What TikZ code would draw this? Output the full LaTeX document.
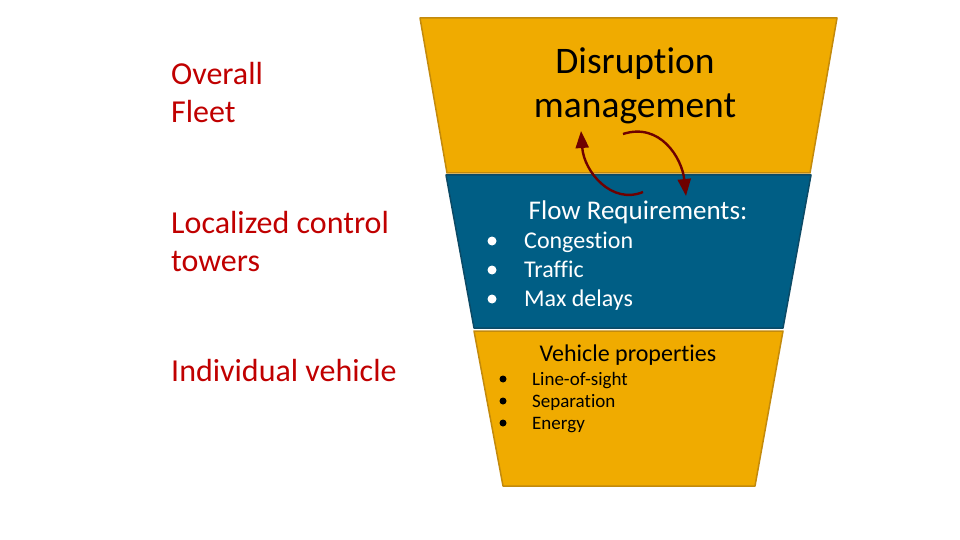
\documentclass[tikz,border=0pt]{standalone}
\usepackage{fontspec}
\setmainfont[Ligatures={NoCommon}]{Carlito}
\usetikzlibrary{arrows.meta}
\definecolor{gold}{HTML}{F0AB00}
\definecolor{goldedge}{HTML}{C38A0C}
\definecolor{navy}{HTML}{005E85}
\definecolor{navyedge}{HTML}{0C4A66}
\definecolor{labelred}{HTML}{C00000}
\definecolor{arrowred}{HTML}{6E0000}
\tikzset{
  goldpanel/.style={fill=gold,draw=goldedge,line width=1.5pt,line join=round},
  bluepanel/.style={fill=navy,draw=navyedge,line width=1.5pt,line join=round},
  sidelabel/.style={text=labelred,anchor=west,align=left,inner sep=0pt,font=\fontsize{32}{38}\selectfont},
  loopline/.style={draw=arrowred,line width=2.4pt,-{Triangle[length=17pt,width=13pt]}},
  whitedot/.style={circle,fill=white,inner sep=0pt,minimum size=9pt},
  blackdot/.style={circle,fill=black,inner sep=0pt,minimum size=7pt},
  itemw/.style={anchor=base west,inner sep=0pt,text=white,font=\fontsize{24}{28}\selectfont},
  itemb/.style={anchor=base west,inner sep=0pt,text=black,font=\fontsize{19}{22}\selectfont},
}
\begin{document}
\begin{tikzpicture}[x=1pt,y=-1pt]
\useasboundingbox (0,0) rectangle (960,540);
% panels
\draw[goldpanel] (420,18) -- (837,18) -- (810,173) -- (447,173) -- cycle;
\draw[bluepanel] (446,175) -- (811,175) -- (783,328) -- (474,328) -- cycle;
\draw[goldpanel] (474,331) -- (783,331) -- (755,486) -- (503,486) -- cycle;
% left labels
\node[sidelabel] (fleet) at (171,93) {Overall\\Fleet};
\node[sidelabel] (towers) at (171,242) {Localized control\\towers};
\node[sidelabel] (vehicle) at (171,371) {Individual vehicle};
% top text
\node[align=center,inner sep=0pt,font=\fontsize{37.5}{44}\selectfont] (disr) at (635,86) {Disruption\\management};
% middle text
\node[anchor=base,inner sep=0pt,text=white,font=\fontsize{27}{30}\selectfont] (flow) at (638,219) {Flow Requirements:};
\node[whitedot] (d1) at (492,241) {};
\node[whitedot] (d2) at (492,270) {};
\node[whitedot] (d3) at (492,299) {};
\node[itemw] (i1) at (524,248) {Congestion};
\node[itemw] (i2) at (524,277) {Traffic};
\node[itemw] (i3) at (524,306) {Max delays};
% bottom text
\node[anchor=base,inner sep=0pt,font=\fontsize{24}{28}\selectfont] (vprop) at (628,361) {Vehicle properties};
\node[blackdot] (e1) at (503,379) {};
\node[blackdot] (e2) at (503,401) {};
\node[blackdot] (e3) at (503,423) {};
\node[itemb] (j1) at (532,385) {Line-of-sight};
\node[itemb] (j2) at (532,407) {Separation};
\node[itemb] (j3) at (532,429) {Energy};
% arrows
\coordinate (a1s) at (643,192);
\coordinate (a1e) at (581,131);
\coordinate (a2s) at (623,134);
\coordinate (a2e) at (686,196);
\draw[loopline] (a1s) .. controls (612,205) and (584,172) .. (a1e);
\draw[loopline] (a2s) .. controls (660,122) and (682,158) .. (a2e);
\end{tikzpicture}
\end{document}
